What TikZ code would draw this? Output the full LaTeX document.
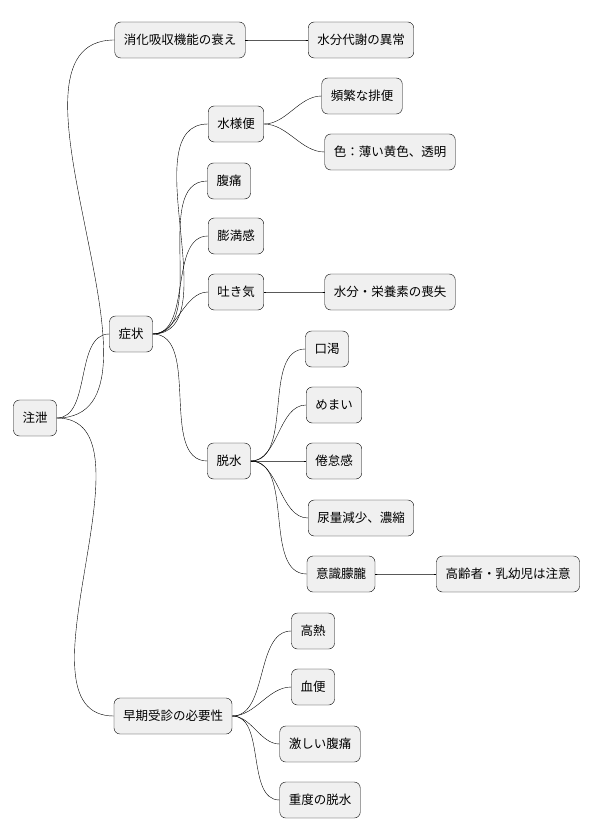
\documentclass[tikz,border=0pt]{standalone}
\usepackage{fontspec}
\setmainfont{Noto Sans CJK JP}
\begin{document}
\begin{tikzpicture}[x=1pt, y=-1pt,
  box/.style = {draw, rounded corners=6pt, fill=gray!12, minimum height=36pt, inner xsep=9pt, font=\fontsize{12.5}{14}\selectfont},
  link/.style = {out=0, in=180, looseness=0.9}]
\useasboundingbox (0,0) rectangle (600,837);
\node[box] (root) at (35,418) {注泄};
\node[box] (a) at (180,40) {消化吸収機能の衰え};
\node[box] (a1) at (361,40) {水分代謝の異常};
\node[box] (b) at (131,334) {症状};
\node[box] (b1) at (236,124) {水様便};
\node[box] (b11) at (362,96) {頻繁な排便};
\node[box] (b12) at (390,152) {色：薄い黄色、透明};
\node[box] (b2) at (229,181) {腹痛};
\node[box] (b3) at (236,236) {膨満感};
\node[box] (b4) at (236,292) {吐き気};
\node[box] (b41) at (390,292) {水分・栄養素の喪失};
\node[box] (b5) at (229,461) {脱水};
\node[box] (b51) at (327,349) {口渇};
\node[box] (b52) at (334,405) {めまい};
\node[box] (b53) at (334,461) {倦怠感};
\node[box] (b54) at (361,518) {尿量減少、濃縮};
\node[box] (b55) at (341,574) {意識朦朧};
\node[box] (b551) at (508,574) {高齢者・乳幼児は注意};
\node[box] (c) at (173,716) {早期受診の必要性};
\node[box] (c1) at (313,631) {高熱};
\node[box] (c2) at (313,687) {血便};
\node[box] (c3) at (320,744) {激しい腹痛};
\node[box] (c4) at (320,800) {重度の脱水};
\foreach \p/\c in {root/a, root/b, root/c, a/a1, b/b1, b/b2, b/b3, b/b4, b/b5,
  b1/b11, b1/b12, b4/b41, b5/b51, b5/b52, b5/b53, b5/b54, b5/b55, b55/b551,
  c/c1, c/c2, c/c3, c/c4}
  \draw (\p.east) to[link] (\c.west);
\end{tikzpicture}
\end{document}
